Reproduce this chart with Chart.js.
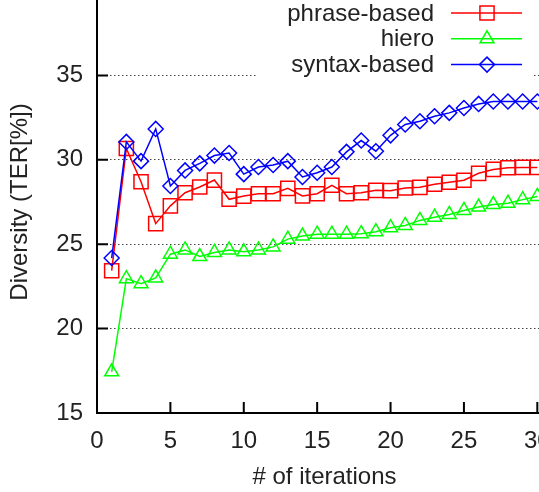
<!DOCTYPE html>
<html>
<head>
<meta charset="utf-8">
<script src="https://cdn.jsdelivr.net/npm/chart.js"></script>
<style>
  html, body { margin: 0; padding: 0; background: #fff; overflow: hidden; }
  #wrap { position: relative; width: 539px; height: 492px; overflow: hidden; background: #fff; }
  #c { position: absolute; left: 0; top: -21px; }
</style>
</head>
<body>
<div id="wrap"><canvas id="c" width="564" height="513"></canvas></div>
<script>
const iterations = [1,2,3,4,5,6,7,8,9,10,11,12,13,14,15,16,17,18,19,20,21,22,23,24,25,26,27,28,29,30];
const phraseBased = [23.43,30.67,28.70,26.22,27.27,28.05,28.39,28.80,27.66,27.85,27.99,27.99,28.31,27.86,27.99,28.49,27.99,28.05,28.19,28.17,28.33,28.37,28.55,28.67,28.79,29.20,29.43,29.53,29.55,29.55];
const hiero = [17.44,22.96,22.66,23.00,24.41,24.66,24.27,24.51,24.66,24.55,24.66,24.84,25.30,25.48,25.59,25.59,25.59,25.62,25.74,25.98,26.11,26.41,26.60,26.76,27.00,27.20,27.35,27.43,27.64,27.83];
const syntaxBased = [24.18,31.06,29.92,31.83,28.45,29.37,29.79,30.25,30.40,29.15,29.57,29.69,29.92,28.98,29.23,29.57,30.47,31.14,30.51,31.45,32.09,32.28,32.58,32.78,33.07,33.31,33.45,33.45,33.45,33.45];
const seriesNames = ['phrase-based', 'hiero', 'syntax-based'];
const xTickValues = [0,5,10,15,20,25,30];
const yTickValues = [15,20,25,30,35];

const FONT = "'Liberation Sans', Arial, sans-serif";
const TXT = '#222';

function pts(ys) { return iterations.map((x, i) => ({x: x, y: ys[i]})); }

const datasets = [
  {label: seriesNames[0], data: pts(phraseBased), borderColor: '#ff0000', pointStyle: 'rect', pointRadius: 10, order: 3},
  {label: seriesNames[1], data: pts(hiero), borderColor: '#00ff00', pointStyle: 'triangle', pointRadius: 8, order: 2},
  {label: seriesNames[2], data: pts(syntaxBased), borderColor: '#0000ff', pointStyle: 'rectRot', pointRadius: 7.5, order: 1}
].map(d => Object.assign(d, {
  borderWidth: 1.5,
  pointBorderWidth: 1.5,
  pointBorderColor: d.borderColor,
  pointBackgroundColor: 'rgba(0,0,0,0)',
  pointHoverRadius: d.pointRadius,
  fill: false,
  tension: 0
}));

const innerTicks = {
  id: 'innerTicks',
  afterDatasetsDraw(chart) {
    const ctx = chart.ctx, a = chart.chartArea;
    const xs = chart.scales.x, ys = chart.scales.y;
    ctx.save();
    ctx.strokeStyle = '#000';
    ctx.lineWidth = 2;
    ctx.beginPath();
    yTickValues.forEach(v => { const p = ys.getPixelForValue(v); ctx.moveTo(a.left, p); ctx.lineTo(a.left + 11, p); });
    xTickValues.forEach(v => { const p = xs.getPixelForValue(v); ctx.moveTo(p, a.bottom); ctx.lineTo(p, a.bottom - 11); });
    ctx.stroke();
    ctx.restore();
  }
};

const keyBox = {
  id: 'keyBox',
  afterDraw(chart) {
    const ctx = chart.ctx;
    ctx.save();
    ctx.fillStyle = '#fff';
    ctx.fillRect(258, 0, 275, 100);
    ctx.font = '24px ' + FONT;
    ctx.textAlign = 'right';
    ctx.textBaseline = 'middle';
    chart.data.datasets.forEach((ds, i) => {
      const y = 34 + i * 25.8;
      ctx.fillStyle = TXT;
      ctx.fillText(ds.label, 434, y + 1);
      ctx.strokeStyle = ds.borderColor;
      ctx.lineWidth = 1.5;
      ctx.beginPath(); ctx.moveTo(451, y); ctx.lineTo(522, y); ctx.stroke();
      ctx.fillStyle = 'rgba(0,0,0,0)';
      Chart.helpers.drawPoint(ctx, {pointStyle: ds.pointStyle, radius: ds.pointRadius, rotation: 0, borderWidth: 1.5}, 487, y);
    });
    ctx.restore();
  }
};

new Chart(document.getElementById('c'), {
  type: 'line',
  data: { datasets: datasets },
  options: {
    responsive: false,
    animation: false,
    devicePixelRatio: 1,
    layout: { padding: {top: 12, right: 12, bottom: 0, left: 0} },
    plugins: { legend: {display: false}, tooltip: {enabled: false} },
    scales: {
      x: {
        type: 'linear', min: 0, max: 31,
        afterBuildTicks: s => { s.ticks = xTickValues.map(v => ({value: v})); },
        afterFit: s => { s.height = 79; s.paddingLeft = 0; s.paddingRight = 0; s.paddingTop = 0; s.paddingBottom = 0; },
        ticks: { color: TXT, font: {family: FONT, size: 24}, padding: 14, maxRotation: 0, autoSkip: false },
        grid: { display: false, drawTicks: false },
        border: { display: true, color: '#000', width: 2 },
        title: { display: true, text: '# of iterations', color: TXT, font: {family: FONT, size: 24}, padding: {top: 0, bottom: 0} }
      },
      y: {
        type: 'linear', min: 15, max: 40,
        afterBuildTicks: s => { s.ticks = yTickValues.map(v => ({value: v})); },
        afterFit: s => { s.width = 97; s.paddingLeft = 0; s.paddingRight = 0; s.paddingTop = 0; s.paddingBottom = 0; },
        ticks: { color: TXT, font: {family: FONT, size: 24}, padding: 14 },
        grid: { drawTicks: false, lineWidth: 1, color: ctx => (ctx.tick && ctx.tick.value === 15) ? 'rgba(0,0,0,0)' : '#444' },
        border: { display: true, color: '#000', width: 2, dash: [1.5, 2.5] },
        title: { display: true, text: 'Diversity (TER[%])', color: TXT, font: {family: FONT, size: 24}, padding: {top: 6, bottom: 0} }
      }
    }
  },
  plugins: [innerTicks, keyBox]
});
</script>
</body>
</html>
